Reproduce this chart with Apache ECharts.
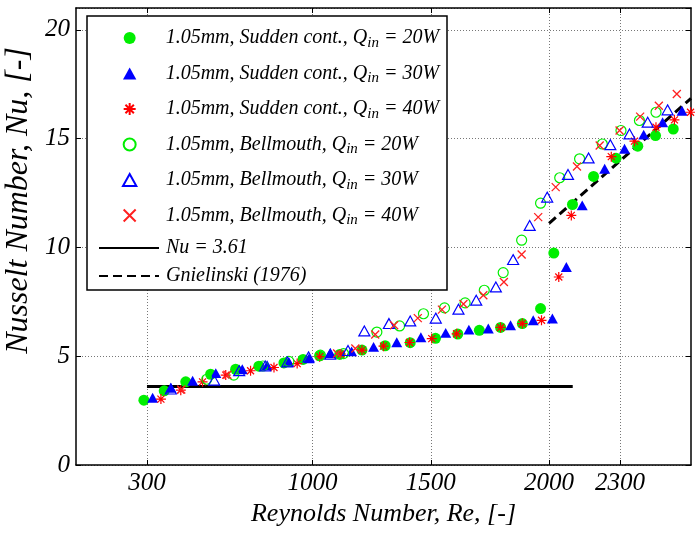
<!DOCTYPE html>
<html><head><meta charset="utf-8">
<script src="https://cdn.jsdelivr.net/npm/echarts@6/dist/echarts.min.js"></script>
<style>html,body{margin:0;padding:0;background:#fff}#c{width:695px;height:533px}</style>
</head><body><div id="c"></div>
<script>
// ---- data (Re, Nu) ----
const suddenQ20 = [[287,2.98],[373,3.41],[464,3.82],[569,4.17],[675,4.40],[773,4.54],[879,4.69],[960,4.85],[1030,5.02],[1115,5.08],[1209,5.28],[1307,5.48],[1413,5.62],[1520,5.82],[1614,6.02],[1705,6.19],[1795,6.32],[1887,6.50],[1964,7.19],[2020,9.74],[2099,11.97],[2188,13.26],[2283,14.10],[2375,14.65],[2450,15.14],[2525,15.44]];
const suddenQ30 = [[324,3.09],[401,3.55],[493,3.87],[591,4.22],[703,4.40],[808,4.59],[900,4.74],[985,4.90],[1075,5.15],[1165,5.22],[1258,5.43],[1356,5.64],[1458,5.87],[1563,6.07],[1661,6.22],[1743,6.27],[1837,6.42],[1933,6.65],[2014,6.73],[2073,9.10],[2140,11.93],[2235,13.61],[2319,14.53],[2400,15.18],[2480,15.75],[2562,16.28]];
const suddenQ40 = [[359,3.03],[443,3.44],[535,3.82],[633,4.13],[738,4.33],[837,4.48],[935,4.66],[1030,4.98],[1120,5.10],[1209,5.28],[1300,5.46],[1410,5.63],[1504,5.81],[1609,6.03],[1795,6.32],[1887,6.50],[1968,6.65],[2041,8.64],[2094,11.47],[2263,14.17],[2361,14.88],[2452,15.52],[2530,15.86],[2598,16.21]];
const bellQ20 = [[553,3.94],[667,4.13],[790,4.55],[900,4.76],[1033,5.05],[1131,5.12],[1272,6.11],[1368,6.39],[1469,6.95],[1558,7.22],[1645,7.45],[1726,8.03],[1806,8.84],[1884,10.33],[1964,12.03],[2045,13.20],[2129,14.07],[2225,14.75],[2304,15.37],[2382,15.83],[2452,16.21]];
const bellQ30 = [[401,3.49],[584,3.90],[690,4.33],[800,4.55],[893,4.74],[983,4.97],[1075,5.09],[1150,5.26],[1219,6.16],[1323,6.50],[1413,6.62],[1521,6.75],[1617,7.16],[1692,7.57],[1775,8.18],[1848,9.44],[1918,11.01],[1992,12.31],[2080,13.35],[2167,14.11],[2259,14.72],[2340,15.21],[2417,15.75],[2501,16.32]];
const bellQ40 = [[445,3.47],[640,4.15],[1104,5.12],[1181,5.35],[1265,6.00],[1345,6.42],[1445,6.75],[1547,7.14],[1638,7.40],[1722,7.80],[1809,8.41],[1884,9.67],[1954,11.39],[2028,12.77],[2118,13.72],[2214,14.68],[2298,15.37],[2385,16.01],[2464,16.51],[2540,17.05]];
const nuLaminar = [[300,3.61],[2100,3.61]];
const gnielinski = [[2000,11.1],[2600,16.85]];
const xTickValues = [300,1000,1500,2000,2300];
const seriesNames = ['1.05mm, Sudden cont., Q_in = 20W','1.05mm, Sudden cont., Q_in = 30W','1.05mm, Sudden cont., Q_in = 40W','1.05mm, Bellmouth, Q_in = 20W','1.05mm, Bellmouth, Q_in = 30W','1.05mm, Bellmouth, Q_in = 40W'];
const lineNames = ['Nu = 3.61','Gnielinski (1976)'];

const FF = 'Liberation Serif';
const chart = echarts.init(document.getElementById('c'));
const star = 'path://M0,5L10,5M5,0L5,10M1.5,1.5L8.5,8.5M1.5,8.5L8.5,1.5';
const cross = 'path://M0,0L10,10M0,10L10,0';
const tri = 'path://M5,0L10,9L0,9Z';
const richTxt = {fontFamily:FF,fontStyle:'italic',fontSize:20,color:'#000',
  rich:{sub:{fontFamily:FF,fontStyle:'italic',fontSize:15,color:'#000',padding:[10,0,0,0]}}};
const axLine = {show:true,onZero:false,lineStyle:{color:'#000',width:1.5}};
const option = {
  animation:false,
  backgroundColor:'#fff',
  grid:{left:76,right:4,top:8,bottom:68,containLabel:false,outerBoundsMode:'none'},
  xAxis:[
    {type:'value',min:0,max:2600,position:'bottom',axisLine:axLine,
     axisTick:{show:true,inside:true,length:5,customValues:xTickValues,lineStyle:{color:'#000'}},
     axisLabel:{customValues:xTickValues,formatter:v=>String(v),fontFamily:FF,fontStyle:'italic',fontSize:25,color:'#000',margin:6},
     splitLine:{show:true,lineStyle:{type:[1,2],color:'#777',width:1}},
     name:'Reynolds Number, Re, [-]',nameLocation:'middle',nameGap:34,
     nameTextStyle:{fontFamily:FF,fontStyle:'italic',fontSize:26,color:'#000'}},
    {type:'value',min:0,max:2600,position:'top',axisLine:axLine,
     axisTick:{show:true,inside:true,length:5,customValues:xTickValues,lineStyle:{color:'#000'}},
     axisLabel:{show:false},splitLine:{show:false}}
  ],
  yAxis:[
    {type:'value',min:0,max:21,interval:5,position:'left',axisLine:axLine,
     axisTick:{show:true,inside:true,length:5,lineStyle:{color:'#000'}},
     axisLabel:{fontFamily:FF,fontStyle:'italic',fontSize:25,color:'#000',margin:6},
     splitLine:{show:true,lineStyle:{type:[1,2],color:'#777',width:1}},
     name:'Nusselt Number, Nu, [-]',nameLocation:'middle',nameGap:28,
     nameTextStyle:{fontFamily:FF,fontStyle:'italic',fontSize:32,color:'#000',padding:[0,0,0,72]}},
    {type:'value',min:0,max:21,interval:5,position:'right',axisLine:axLine,
     axisTick:{show:true,inside:true,length:5,lineStyle:{color:'#000'}},
     axisLabel:{show:false},splitLine:{show:false}}
  ],
  graphic:[{type:'rect',z:50,shape:{x:87,y:16,width:360,height:274},style:{fill:'#fff',stroke:'#000',lineWidth:1.5}}],
  legend:[
    {data:seriesNames,orient:'vertical',left:122,top:28,padding:0,itemWidth:62,itemHeight:12,itemGap:13,
     symbolKeepAspect:true,selectedMode:false,z:60,textStyle:richTxt,
     formatter:n=>n.replace('Q_in','Q{sub|in}')},
    {data:lineNames,orient:'vertical',left:98,top:238,padding:0,itemWidth:60,itemHeight:12,itemGap:8,
     selectedMode:false,z:60,itemStyle:{opacity:0},
     textStyle:{fontFamily:FF,fontStyle:'italic',fontSize:20,color:'#000',padding:[0,0,0,2]}}
  ],
  series:[
    {name:lineNames[0],type:'line',data:nuLaminar,symbol:'none',lineStyle:{color:'#000',width:3},itemStyle:{color:'#000'},z:1},
    {name:lineNames[1],type:'line',data:gnielinski,symbol:'none',lineStyle:{color:'#000',width:3,type:[9,5]},itemStyle:{color:'#000'},z:1},
    {name:seriesNames[0],type:'scatter',data:suddenQ20,symbol:'circle',symbolSize:11,itemStyle:{color:'#00ee00',opacity:1}},
    {name:seriesNames[1],type:'scatter',data:suddenQ30,symbol:tri,symbolSize:11,symbolKeepAspect:true,itemStyle:{color:'#0000ff',opacity:1}},
    {name:seriesNames[2],type:'scatter',data:suddenQ40,symbol:star,symbolSize:10,clip:false,itemStyle:{color:'rgba(0,0,0,0)',borderColor:'#ff0000',borderWidth:1.2,opacity:1}},
    {name:seriesNames[3],type:'scatter',data:bellQ20,symbol:'circle',symbolSize:10,itemStyle:{color:'rgba(0,0,0,0)',borderColor:'#00ee00',borderWidth:1.2,opacity:1}},
    {name:seriesNames[4],type:'scatter',data:bellQ30,symbol:tri,symbolSize:11,symbolKeepAspect:true,itemStyle:{color:'rgba(0,0,0,0)',borderColor:'#0000ff',borderWidth:1.2,opacity:1}},
    {name:seriesNames[5],type:'scatter',data:bellQ40,symbol:cross,symbolSize:8,itemStyle:{color:'rgba(0,0,0,0)',borderColor:'#ff2020',borderWidth:1.3,opacity:1}}
  ]
};
chart.setOption(option);
</script></body></html>
